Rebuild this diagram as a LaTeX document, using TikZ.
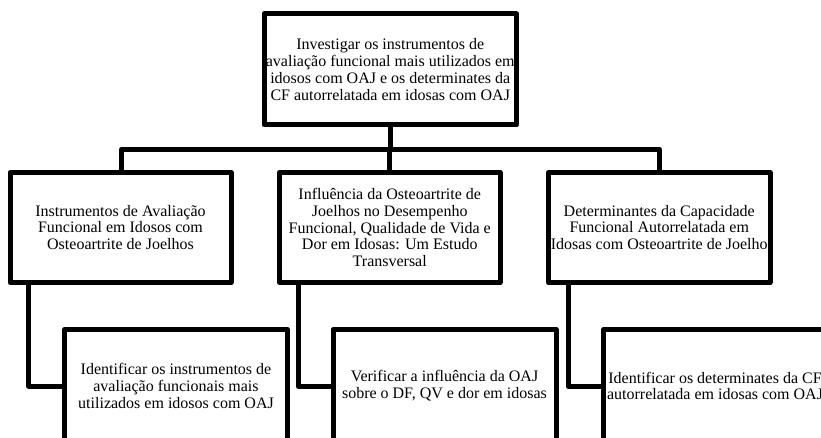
\documentclass[tikz,border=0pt]{standalone}
\usepackage{fontspec}
\setmainfont{Liberation Serif}
\begin{document}
\begin{tikzpicture}[x=1pt,y=-1pt,
  box/.style={draw=black, line width=5pt, fill=white, line join=round, inner sep=0pt,
    align=center, font=\fontsize{16}{16.8}\selectfont},
  link/.style={draw=black, line width=5pt, line join=round}]
\useasboundingbox (0,0) rectangle (821,438);
\clip (0,0) rectangle (821,438);
\node[box, minimum width=252.5pt, minimum height=111pt] (top) at (390.25,69.5)
  {Investigar os instrumentos de\\avaliação funcional mais utilizados em\\idosos com OAJ e os determinates da\\CF autorrelatada em idosas com OAJ};
\node[box, minimum width=221pt, minimum height=110pt] (midL) at (120.5,227.5)
  {Instrumentos de Avaliação\\Funcional em Idosos com\\Osteoartrite de Joelhos};
\node[box, minimum width=220.5pt, minimum height=110pt] (midM) at (389.75,227.5)
  {Influência da Osteoartrite de\\Joelhos no Desempenho\\Funcional, Qualidade de Vida e\\Dor em Idosas: Um Estudo\\Transversal};
\node[box, minimum width=221.5pt, minimum height=110pt] (midR) at (659.25,227.5)
  {Determinantes da Capacidade\\Funcional Autorrelatada em\\Idosas com Osteoartrite de Joelho};
\node[box, minimum width=223pt, minimum height=113pt] (botL) at (176,386)
  {Identificar os instrumentos de\\avaliação funcionais mais\\utilizados em idosos com OAJ};
\node[box, minimum width=223pt, minimum height=113pt] (botM) at (444.5,386)
  {Verificar a influência da OAJ\\sobre o DF, QV e dor em idosas};
\node[box, minimum width=223pt, minimum height=113pt] (botR) at (715,386)
  {Identificar os determinates da CF\\autorrelatada em idosas com OAJ};
\coordinate (j) at (390,149.5);
\draw[link] (top.south) -- (top.south |- j);
\draw[link] ([xshift=1pt]midL.north) |- (j) -| ([xshift=0.25pt]midR.north);
\draw[link] (midM.north |- j) -- (midM.north);
\draw[link] ([xshift=21pt]midL.south west) |- (botL.west);
\draw[link] ([xshift=21pt]midM.south west) |- (botM.west);
\draw[link] ([xshift=22pt]midR.south west) |- (botR.west);
\end{tikzpicture}
\end{document}
